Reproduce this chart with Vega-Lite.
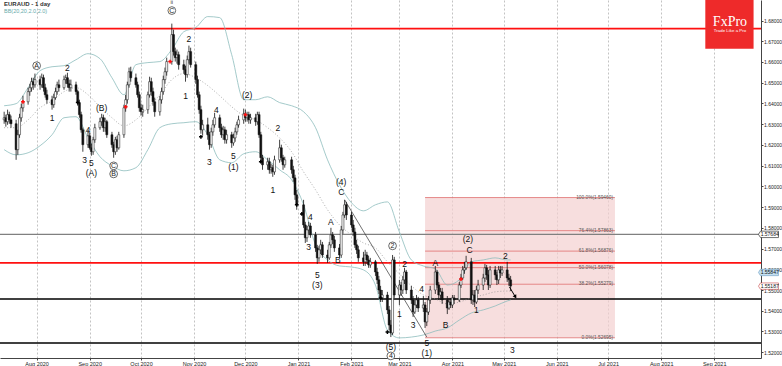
{
"$schema": "https://vega.github.io/schema/vega-lite/v6.json",
"width": 761, "height": 358,
"autosize": {"type": "none"},
"padding": {"left": 0, "top": 0, "right": 21, "bottom": 8},
"background": "white",
"config": {"view": {"stroke": null}, "font": "Liberation Sans",
  "axisX": {"tickCount": {"interval": "month", "step": 1}, "format": "%b %Y", "grid": true, "gridDash": [2, 2], "gridColor": "#9a9a9a", "gridWidth": 0.6, "labelFontSize": 5.5, "tickSize": 2, "labelPadding": 1, "domainColor": "#444", "tickColor": "#444", "labelColor": "#222", "labelOverlap": false, "labelFlush": false},
  "axisY": {"grid": false, "tickCount": 18, "labelFontSize": 5, "tickSize": 2, "labelPadding": 0.5, "domainColor": "#444", "tickColor": "#444", "labelColor": "#222", "format": ".5f", "labelOverlap": false, "labelFlush": false}
},
"title": {"text": "EURAUD - 1 day", "subtitle": "BB(20,20,2.0,2.0)", "anchor": "start", "frame": "group", "orient": "top", "fontSize": 6, "fontWeight": "bold", "color": "#333", "subtitleFontSize": 5.5, "subtitleColor": "#66aaaa", "subtitlePadding": 2, "offset": 0, "dx": 4, "dy": 16},
"datasets": {
"c": [
{"d":"2020-07-13","o":1.6321,"h":1.6360,"l":1.6302,"c":1.6331},
{"d":"2020-07-14","o":1.6331,"h":1.6346,"l":1.6288,"c":1.6312},
{"d":"2020-07-15","o":1.6312,"h":1.6370,"l":1.6297,"c":1.6346},
{"d":"2020-07-16","o":1.6346,"h":1.6360,"l":1.6302,"c":1.6321},
{"d":"2020-07-17","o":1.6321,"h":1.6341,"l":1.6283,"c":1.6302},
{"d":"2020-07-20","o":1.6302,"h":1.6321,"l":1.6128,"c":1.6177},
{"d":"2020-07-21","o":1.6177,"h":1.6273,"l":1.6152,"c":1.6249},
{"d":"2020-07-22","o":1.6249,"h":1.6350,"l":1.6234,"c":1.6331},
{"d":"2020-07-23","o":1.6331,"h":1.6399,"l":1.6312,"c":1.6379},
{"d":"2020-07-24","o":1.6379,"h":1.6437,"l":1.6360,"c":1.6408},
{"d":"2020-07-27","o":1.6408,"h":1.6476,"l":1.6394,"c":1.6457},
{"d":"2020-07-28","o":1.6457,"h":1.6495,"l":1.6437,"c":1.6476},
{"d":"2020-07-29","o":1.6476,"h":1.6524,"l":1.6457,"c":1.6505},
{"d":"2020-07-30","o":1.6505,"h":1.6524,"l":1.6466,"c":1.6490},
{"d":"2020-07-31","o":1.6490,"h":1.6544,"l":1.6476,"c":1.6515},
{"d":"2020-08-03","o":1.6515,"h":1.6534,"l":1.6466,"c":1.6490},
{"d":"2020-08-04","o":1.6490,"h":1.6544,"l":1.6476,"c":1.6524},
{"d":"2020-08-05","o":1.6524,"h":1.6539,"l":1.6457,"c":1.6476},
{"d":"2020-08-06","o":1.6476,"h":1.6495,"l":1.6428,"c":1.6442},
{"d":"2020-08-07","o":1.6442,"h":1.6466,"l":1.6399,"c":1.6418},
{"d":"2020-08-10","o":1.6418,"h":1.6437,"l":1.6370,"c":1.6394},
{"d":"2020-08-11","o":1.6394,"h":1.6447,"l":1.6379,"c":1.6428},
{"d":"2020-08-12","o":1.6428,"h":1.6476,"l":1.6418,"c":1.6457},
{"d":"2020-08-13","o":1.6457,"h":1.6505,"l":1.6442,"c":1.6490},
{"d":"2020-08-14","o":1.6490,"h":1.6515,"l":1.6457,"c":1.6476},
{"d":"2020-08-17","o":1.6476,"h":1.6534,"l":1.6466,"c":1.6515},
{"d":"2020-08-18","o":1.6515,"h":1.6539,"l":1.6495,"c":1.6524},
{"d":"2020-08-19","o":1.6524,"h":1.6548,"l":1.6476,"c":1.6495},
{"d":"2020-08-20","o":1.6495,"h":1.6515,"l":1.6457,"c":1.6476},
{"d":"2020-08-21","o":1.6476,"h":1.6515,"l":1.6457,"c":1.6490},
{"d":"2020-08-24","o":1.6490,"h":1.6505,"l":1.6442,"c":1.6457},
{"d":"2020-08-25","o":1.6457,"h":1.6466,"l":1.6389,"c":1.6404},
{"d":"2020-08-26","o":1.6404,"h":1.6418,"l":1.6331,"c":1.6346},
{"d":"2020-08-27","o":1.6346,"h":1.6360,"l":1.6259,"c":1.6273},
{"d":"2020-08-28","o":1.6273,"h":1.6283,"l":1.6167,"c":1.6201},
{"d":"2020-08-31","o":1.6201,"h":1.6273,"l":1.6186,"c":1.6244},
{"d":"2020-09-01","o":1.6244,"h":1.6259,"l":1.6177,"c":1.6186},
{"d":"2020-09-02","o":1.6186,"h":1.6206,"l":1.6148,"c":1.6167},
{"d":"2020-09-03","o":1.6167,"h":1.6239,"l":1.6152,"c":1.6225},
{"d":"2020-09-04","o":1.6225,"h":1.6302,"l":1.6210,"c":1.6283},
{"d":"2020-09-07","o":1.6283,"h":1.6331,"l":1.6273,"c":1.6312},
{"d":"2020-09-08","o":1.6312,"h":1.6350,"l":1.6292,"c":1.6331},
{"d":"2020-09-09","o":1.6331,"h":1.6346,"l":1.6263,"c":1.6283},
{"d":"2020-09-10","o":1.6283,"h":1.6331,"l":1.6263,"c":1.6312},
{"d":"2020-09-11","o":1.6312,"h":1.6321,"l":1.6234,"c":1.6249},
{"d":"2020-09-14","o":1.6249,"h":1.6263,"l":1.6186,"c":1.6201},
{"d":"2020-09-15","o":1.6201,"h":1.6215,"l":1.6138,"c":1.6167},
{"d":"2020-09-16","o":1.6167,"h":1.6239,"l":1.6152,"c":1.6225},
{"d":"2020-09-17","o":1.6225,"h":1.6244,"l":1.6167,"c":1.6186},
{"d":"2020-09-18","o":1.6186,"h":1.6263,"l":1.6177,"c":1.6249},
{"d":"2020-09-21","o":1.6249,"h":1.6394,"l":1.6234,"c":1.6379},
{"d":"2020-09-22","o":1.6379,"h":1.6442,"l":1.6360,"c":1.6418},
{"d":"2020-09-23","o":1.6418,"h":1.6505,"l":1.6399,"c":1.6490},
{"d":"2020-09-24","o":1.6490,"h":1.6573,"l":1.6476,"c":1.6553},
{"d":"2020-09-25","o":1.6553,"h":1.6577,"l":1.6505,"c":1.6524},
{"d":"2020-09-28","o":1.6524,"h":1.6544,"l":1.6476,"c":1.6490},
{"d":"2020-09-29","o":1.6490,"h":1.6505,"l":1.6428,"c":1.6442},
{"d":"2020-09-30","o":1.6442,"h":1.6457,"l":1.6360,"c":1.6379},
{"d":"2020-10-01","o":1.6379,"h":1.6399,"l":1.6341,"c":1.6360},
{"d":"2020-10-02","o":1.6360,"h":1.6394,"l":1.6336,"c":1.6370},
{"d":"2020-10-05","o":1.6370,"h":1.6457,"l":1.6350,"c":1.6442},
{"d":"2020-10-06","o":1.6442,"h":1.6529,"l":1.6428,"c":1.6505},
{"d":"2020-10-07","o":1.6505,"h":1.6524,"l":1.6437,"c":1.6457},
{"d":"2020-10-08","o":1.6457,"h":1.6476,"l":1.6389,"c":1.6408},
{"d":"2020-10-09","o":1.6408,"h":1.6428,"l":1.6336,"c":1.6360},
{"d":"2020-10-12","o":1.6360,"h":1.6437,"l":1.6341,"c":1.6418},
{"d":"2020-10-13","o":1.6418,"h":1.6476,"l":1.6399,"c":1.6457},
{"d":"2020-10-14","o":1.6457,"h":1.6534,"l":1.6442,"c":1.6515},
{"d":"2020-10-15","o":1.6515,"h":1.6573,"l":1.6495,"c":1.6553},
{"d":"2020-10-16","o":1.6553,"h":1.6621,"l":1.6534,"c":1.6602},
{"d":"2020-10-19","o":1.6602,"h":1.6785,"l":1.6587,"c":1.6732},
{"d":"2020-10-20","o":1.6732,"h":1.6756,"l":1.6631,"c":1.6650},
{"d":"2020-10-21","o":1.6650,"h":1.6669,"l":1.6602,"c":1.6621},
{"d":"2020-10-22","o":1.6621,"h":1.6660,"l":1.6592,"c":1.6635},
{"d":"2020-10-23","o":1.6635,"h":1.6650,"l":1.6563,"c":1.6587},
{"d":"2020-10-26","o":1.6587,"h":1.6611,"l":1.6544,"c":1.6563},
{"d":"2020-10-27","o":1.6563,"h":1.6582,"l":1.6505,"c":1.6539},
{"d":"2020-10-28","o":1.6539,"h":1.6631,"l":1.6524,"c":1.6611},
{"d":"2020-10-29","o":1.6611,"h":1.6679,"l":1.6592,"c":1.6650},
{"d":"2020-10-30","o":1.6650,"h":1.6669,"l":1.6573,"c":1.6587},
{"d":"2020-11-02","o":1.6587,"h":1.6602,"l":1.6495,"c":1.6515},
{"d":"2020-11-03","o":1.6515,"h":1.6534,"l":1.6428,"c":1.6442},
{"d":"2020-11-04","o":1.6442,"h":1.6457,"l":1.6350,"c":1.6370},
{"d":"2020-11-05","o":1.6370,"h":1.6389,"l":1.6254,"c":1.6273},
{"d":"2020-11-06","o":1.6273,"h":1.6321,"l":1.6244,"c":1.6297},
{"d":"2020-11-09","o":1.6297,"h":1.6331,"l":1.6225,"c":1.6249},
{"d":"2020-11-10","o":1.6249,"h":1.6263,"l":1.6177,"c":1.6201},
{"d":"2020-11-11","o":1.6201,"h":1.6283,"l":1.6186,"c":1.6263},
{"d":"2020-11-12","o":1.6263,"h":1.6321,"l":1.6244,"c":1.6297},
{"d":"2020-11-13","o":1.6297,"h":1.6355,"l":1.6283,"c":1.6331},
{"d":"2020-11-16","o":1.6331,"h":1.6346,"l":1.6263,"c":1.6283},
{"d":"2020-11-17","o":1.6283,"h":1.6302,"l":1.6234,"c":1.6249},
{"d":"2020-11-18","o":1.6249,"h":1.6292,"l":1.6225,"c":1.6273},
{"d":"2020-11-19","o":1.6273,"h":1.6288,"l":1.6206,"c":1.6225},
{"d":"2020-11-20","o":1.6225,"h":1.6273,"l":1.6206,"c":1.6249},
{"d":"2020-11-23","o":1.6249,"h":1.6263,"l":1.6186,"c":1.6210},
{"d":"2020-11-24","o":1.6210,"h":1.6254,"l":1.6196,"c":1.6234},
{"d":"2020-11-25","o":1.6234,"h":1.6283,"l":1.6215,"c":1.6263},
{"d":"2020-11-26","o":1.6263,"h":1.6312,"l":1.6249,"c":1.6297},
{"d":"2020-11-27","o":1.6297,"h":1.6341,"l":1.6283,"c":1.6321},
{"d":"2020-11-30","o":1.6321,"h":1.6375,"l":1.6302,"c":1.6350},
{"d":"2020-12-01","o":1.6350,"h":1.6370,"l":1.6312,"c":1.6331},
{"d":"2020-12-02","o":1.6331,"h":1.6360,"l":1.6312,"c":1.6346},
{"d":"2020-12-03","o":1.6346,"h":1.6360,"l":1.6302,"c":1.6321},
{"d":"2020-12-04","o":1.6321,"h":1.6350,"l":1.6302,"c":1.6331},
{"d":"2020-12-07","o":1.6331,"h":1.6350,"l":1.6292,"c":1.6312},
{"d":"2020-12-08","o":1.6312,"h":1.6360,"l":1.6297,"c":1.6346},
{"d":"2020-12-09","o":1.6346,"h":1.6360,"l":1.6234,"c":1.6249},
{"d":"2020-12-10","o":1.6249,"h":1.6263,"l":1.6119,"c":1.6138},
{"d":"2020-12-11","o":1.6138,"h":1.6152,"l":1.6080,"c":1.6104},
{"d":"2020-12-14","o":1.6104,"h":1.6138,"l":1.6080,"c":1.6119},
{"d":"2020-12-15","o":1.6119,"h":1.6138,"l":1.6061,"c":1.6080},
{"d":"2020-12-16","o":1.6080,"h":1.6109,"l":1.6061,"c":1.6090},
{"d":"2020-12-17","o":1.6090,"h":1.6104,"l":1.6046,"c":1.6070},
{"d":"2020-12-18","o":1.6070,"h":1.6148,"l":1.6056,"c":1.6128},
{"d":"2020-12-21","o":1.6128,"h":1.6225,"l":1.6114,"c":1.6186},
{"d":"2020-12-22","o":1.6186,"h":1.6201,"l":1.6119,"c":1.6138},
{"d":"2020-12-23","o":1.6138,"h":1.6152,"l":1.6080,"c":1.6104},
{"d":"2020-12-24","o":1.6104,"h":1.6143,"l":1.6090,"c":1.6128},
{"d":"2020-12-28","o":1.6128,"h":1.6143,"l":1.6061,"c":1.6080},
{"d":"2020-12-29","o":1.6080,"h":1.6099,"l":1.6022,"c":1.6041},
{"d":"2020-12-30","o":1.6041,"h":1.6056,"l":1.5935,"c":1.5959},
{"d":"2020-12-31","o":1.5959,"h":1.5983,"l":1.5887,"c":1.5911},
{"d":"2021-01-04","o":1.5911,"h":1.5935,"l":1.5800,"c":1.5814},
{"d":"2021-01-05","o":1.5814,"h":1.5829,"l":1.5727,"c":1.5752},
{"d":"2021-01-06","o":1.5752,"h":1.5809,"l":1.5732,"c":1.5790},
{"d":"2021-01-07","o":1.5790,"h":1.5829,"l":1.5771,"c":1.5809},
{"d":"2021-01-08","o":1.5809,"h":1.5824,"l":1.5752,"c":1.5766},
{"d":"2021-01-11","o":1.5766,"h":1.5780,"l":1.5684,"c":1.5703},
{"d":"2021-01-12","o":1.5703,"h":1.5718,"l":1.5626,"c":1.5655},
{"d":"2021-01-13","o":1.5655,"h":1.5713,"l":1.5636,"c":1.5694},
{"d":"2021-01-14","o":1.5694,"h":1.5742,"l":1.5674,"c":1.5718},
{"d":"2021-01-15","o":1.5718,"h":1.5732,"l":1.5655,"c":1.5669},
{"d":"2021-01-18","o":1.5669,"h":1.5694,"l":1.5631,"c":1.5655},
{"d":"2021-01-19","o":1.5655,"h":1.5732,"l":1.5645,"c":1.5718},
{"d":"2021-01-20","o":1.5718,"h":1.5800,"l":1.5703,"c":1.5766},
{"d":"2021-01-21","o":1.5766,"h":1.5780,"l":1.5722,"c":1.5742},
{"d":"2021-01-22","o":1.5742,"h":1.5761,"l":1.5684,"c":1.5703},
{"d":"2021-01-25","o":1.5703,"h":1.5722,"l":1.5655,"c":1.5669},
{"d":"2021-01-26","o":1.5669,"h":1.5809,"l":1.5655,"c":1.5790},
{"d":"2021-01-27","o":1.5790,"h":1.5877,"l":1.5771,"c":1.5862},
{"d":"2021-01-28","o":1.5862,"h":1.5935,"l":1.5848,"c":1.5911},
{"d":"2021-01-29","o":1.5911,"h":1.5925,"l":1.5838,"c":1.5862},
{"d":"2021-02-01","o":1.5862,"h":1.5877,"l":1.5800,"c":1.5814},
{"d":"2021-02-02","o":1.5814,"h":1.5838,"l":1.5761,"c":1.5780},
{"d":"2021-02-03","o":1.5780,"h":1.5800,"l":1.5703,"c":1.5718},
{"d":"2021-02-04","o":1.5718,"h":1.5742,"l":1.5674,"c":1.5694},
{"d":"2021-02-05","o":1.5694,"h":1.5713,"l":1.5636,"c":1.5655},
{"d":"2021-02-08","o":1.5655,"h":1.5684,"l":1.5616,"c":1.5636},
{"d":"2021-02-09","o":1.5636,"h":1.5694,"l":1.5616,"c":1.5669},
{"d":"2021-02-10","o":1.5669,"h":1.5684,"l":1.5626,"c":1.5645},
{"d":"2021-02-11","o":1.5645,"h":1.5665,"l":1.5607,"c":1.5621},
{"d":"2021-02-12","o":1.5621,"h":1.5655,"l":1.5607,"c":1.5636},
{"d":"2021-02-15","o":1.5636,"h":1.5645,"l":1.5568,"c":1.5587},
{"d":"2021-02-16","o":1.5587,"h":1.5607,"l":1.5529,"c":1.5549},
{"d":"2021-02-17","o":1.5549,"h":1.5568,"l":1.5481,"c":1.5500},
{"d":"2021-02-18","o":1.5500,"h":1.5520,"l":1.5442,"c":1.5462},
{"d":"2021-02-19","o":1.5462,"h":1.5500,"l":1.5442,"c":1.5476},
{"d":"2021-02-22","o":1.5476,"h":1.5491,"l":1.5384,"c":1.5404},
{"d":"2021-02-23","o":1.5404,"h":1.5423,"l":1.5307,"c":1.5331},
{"d":"2021-02-24","o":1.5331,"h":1.5355,"l":1.5273,"c":1.5293},
{"d":"2021-02-25","o":1.5293,"h":1.5669,"l":1.5283,"c":1.5645},
{"d":"2021-02-26","o":1.5645,"h":1.5660,"l":1.5462,"c":1.5476},
{"d":"2021-03-01","o":1.5476,"h":1.5549,"l":1.5428,"c":1.5524},
{"d":"2021-03-02","o":1.5524,"h":1.5539,"l":1.5471,"c":1.5500},
{"d":"2021-03-03","o":1.5500,"h":1.5568,"l":1.5481,"c":1.5549},
{"d":"2021-03-04","o":1.5549,"h":1.5607,"l":1.5529,"c":1.5587},
{"d":"2021-03-05","o":1.5587,"h":1.5597,"l":1.5481,"c":1.5500},
{"d":"2021-03-08","o":1.5500,"h":1.5520,"l":1.5433,"c":1.5452},
{"d":"2021-03-09","o":1.5452,"h":1.5471,"l":1.5370,"c":1.5394},
{"d":"2021-03-10","o":1.5394,"h":1.5452,"l":1.5384,"c":1.5428},
{"d":"2021-03-11","o":1.5428,"h":1.5476,"l":1.5413,"c":1.5452},
{"d":"2021-03-12","o":1.5452,"h":1.5467,"l":1.5394,"c":1.5413},
{"d":"2021-03-15","o":1.5413,"h":1.5471,"l":1.5394,"c":1.5428},
{"d":"2021-03-16","o":1.5428,"h":1.5442,"l":1.5317,"c":1.5346},
{"d":"2021-03-17","o":1.5346,"h":1.5413,"l":1.5326,"c":1.5394},
{"d":"2021-03-18","o":1.5394,"h":1.5471,"l":1.5380,"c":1.5452},
{"d":"2021-03-19","o":1.5452,"h":1.5520,"l":1.5433,"c":1.5500},
{"d":"2021-03-22","o":1.5500,"h":1.5616,"l":1.5481,"c":1.5587},
{"d":"2021-03-23","o":1.5587,"h":1.5597,"l":1.5510,"c":1.5524},
{"d":"2021-03-24","o":1.5524,"h":1.5539,"l":1.5452,"c":1.5476},
{"d":"2021-03-25","o":1.5476,"h":1.5510,"l":1.5452,"c":1.5491},
{"d":"2021-03-26","o":1.5491,"h":1.5510,"l":1.5433,"c":1.5452},
{"d":"2021-03-29","o":1.5452,"h":1.5471,"l":1.5384,"c":1.5413},
{"d":"2021-03-30","o":1.5413,"h":1.5462,"l":1.5404,"c":1.5442},
{"d":"2021-03-31","o":1.5442,"h":1.5462,"l":1.5413,"c":1.5428},
{"d":"2021-04-01","o":1.5428,"h":1.5476,"l":1.5413,"c":1.5462},
{"d":"2021-04-02","o":1.5462,"h":1.5476,"l":1.5433,"c":1.5452},
{"d":"2021-04-05","o":1.5452,"h":1.5539,"l":1.5442,"c":1.5524},
{"d":"2021-04-06","o":1.5524,"h":1.5578,"l":1.5510,"c":1.5558},
{"d":"2021-04-07","o":1.5558,"h":1.5616,"l":1.5549,"c":1.5597},
{"d":"2021-04-08","o":1.5597,"h":1.5636,"l":1.5578,"c":1.5607},
{"d":"2021-04-09","o":1.5607,"h":1.5665,"l":1.5597,"c":1.5636},
{"d":"2021-04-12","o":1.5636,"h":1.5655,"l":1.5433,"c":1.5452},
{"d":"2021-04-13","o":1.5452,"h":1.5500,"l":1.5428,"c":1.5476},
{"d":"2021-04-14","o":1.5476,"h":1.5500,"l":1.5418,"c":1.5442},
{"d":"2021-04-15","o":1.5442,"h":1.5520,"l":1.5433,"c":1.5500},
{"d":"2021-04-16","o":1.5500,"h":1.5549,"l":1.5481,"c":1.5524},
{"d":"2021-04-19","o":1.5524,"h":1.5578,"l":1.5500,"c":1.5558},
{"d":"2021-04-20","o":1.5558,"h":1.5626,"l":1.5539,"c":1.5607},
{"d":"2021-04-21","o":1.5607,"h":1.5621,"l":1.5549,"c":1.5573},
{"d":"2021-04-22","o":1.5573,"h":1.5597,"l":1.5500,"c":1.5524},
{"d":"2021-04-23","o":1.5524,"h":1.5616,"l":1.5510,"c":1.5597},
{"d":"2021-04-26","o":1.5597,"h":1.5616,"l":1.5549,"c":1.5573},
{"d":"2021-04-27","o":1.5573,"h":1.5587,"l":1.5524,"c":1.5549},
{"d":"2021-04-28","o":1.5549,"h":1.5616,"l":1.5529,"c":1.5597},
{"d":"2021-04-29","o":1.5597,"h":1.5616,"l":1.5558,"c":1.5582},
{"d":"2021-04-30","o":1.5582,"h":1.5616,"l":1.5568,"c":1.5597},
{"d":"2021-05-03","o":1.5597,"h":1.5636,"l":1.5539,"c":1.5558},
{"d":"2021-05-04","o":1.5558,"h":1.5578,"l":1.5520,"c":1.5549},
{"d":"2021-05-05","o":1.5549,"h":1.5568,"l":1.5495,"c":1.5519}
],
"bb": [
{"d":"2020-07-13","u":1.6389,"m":1.6283,"lo":1.6177},
{"d":"2020-07-20","u":1.6399,"m":1.6283,"lo":1.6152},
{"d":"2020-07-27","u":1.6476,"m":1.6321,"lo":1.6162},
{"d":"2020-08-03","u":1.6558,"m":1.6379,"lo":1.6196},
{"d":"2020-08-10","u":1.6577,"m":1.6413,"lo":1.6249},
{"d":"2020-08-17","u":1.6582,"m":1.6457,"lo":1.6331},
{"d":"2020-08-24","u":1.6611,"m":1.6476,"lo":1.6336},
{"d":"2020-08-31","u":1.6640,"m":1.6442,"lo":1.6234},
{"d":"2020-09-07","u":1.6616,"m":1.6384,"lo":1.6143},
{"d":"2020-09-14","u":1.6524,"m":1.6331,"lo":1.6099},
{"d":"2020-09-21","u":1.6442,"m":1.6292,"lo":1.6075},
{"d":"2020-09-28","u":1.6587,"m":1.6321,"lo":1.6090},
{"d":"2020-10-05","u":1.6597,"m":1.6379,"lo":1.6177},
{"d":"2020-10-12","u":1.6602,"m":1.6442,"lo":1.6283},
{"d":"2020-10-19","u":1.6660,"m":1.6515,"lo":1.6302},
{"d":"2020-10-26","u":1.6746,"m":1.6544,"lo":1.6307},
{"d":"2020-11-02","u":1.6766,"m":1.6524,"lo":1.6312},
{"d":"2020-11-09","u":1.6819,"m":1.6486,"lo":1.6249},
{"d":"2020-11-16","u":1.6814,"m":1.6437,"lo":1.6128},
{"d":"2020-11-23","u":1.6635,"m":1.6384,"lo":1.6114},
{"d":"2020-11-30","u":1.6418,"m":1.6341,"lo":1.6157},
{"d":"2020-12-07","u":1.6418,"m":1.6321,"lo":1.6167},
{"d":"2020-12-14","u":1.6432,"m":1.6283,"lo":1.6128},
{"d":"2020-12-21","u":1.6404,"m":1.6234,"lo":1.6080},
{"d":"2020-12-28","u":1.6389,"m":1.6167,"lo":1.6032},
{"d":"2021-01-04","u":1.6360,"m":1.6070,"lo":1.5911},
{"d":"2021-01-11","u":1.6283,"m":1.5983,"lo":1.5718},
{"d":"2021-01-18","u":1.6128,"m":1.5887,"lo":1.5645},
{"d":"2021-01-25","u":1.6007,"m":1.5814,"lo":1.5616},
{"d":"2021-02-01","u":1.5921,"m":1.5766,"lo":1.5611},
{"d":"2021-02-08","u":1.5882,"m":1.5727,"lo":1.5597},
{"d":"2021-02-15","u":1.5911,"m":1.5703,"lo":1.5524},
{"d":"2021-02-22","u":1.5925,"m":1.5636,"lo":1.5307},
{"d":"2021-03-01","u":1.5780,"m":1.5578,"lo":1.5269},
{"d":"2021-03-08","u":1.5645,"m":1.5520,"lo":1.5273},
{"d":"2021-03-15","u":1.5616,"m":1.5476,"lo":1.5283},
{"d":"2021-03-22","u":1.5602,"m":1.5457,"lo":1.5302},
{"d":"2021-03-29","u":1.5524,"m":1.5433,"lo":1.5317},
{"d":"2021-04-05","u":1.5549,"m":1.5442,"lo":1.5355},
{"d":"2021-04-12","u":1.5636,"m":1.5462,"lo":1.5389},
{"d":"2021-04-19","u":1.5645,"m":1.5476,"lo":1.5404},
{"d":"2021-04-26","u":1.5655,"m":1.5491,"lo":1.5423},
{"d":"2021-05-03","u":1.5645,"m":1.5495,"lo":1.5447},
{"d":"2021-05-05","u":1.5645,"m":1.5495,"lo":1.5452}
],
"lab": [
{"d":"2020-08-19","p":1.6573,"t":"2"},
{"d":"2020-08-10","p":1.6331,"t":"1"},
{"d":"2020-09-08","p":1.6379,"t":"(B)"},
{"d":"2020-08-31","p":1.6273,"t":"4"},
{"d":"2020-08-29","p":1.6128,"t":"3"},
{"d":"2020-09-02","p":1.6114,"t":"5"},
{"d":"2020-09-02","p":1.6065,"t":"(A)"},
{"d":"2020-10-29","p":1.6713,"t":"2"},
{"d":"2020-10-27","p":1.6437,"t":"1"},
{"d":"2020-11-14","p":1.6370,"t":"4"},
{"d":"2020-11-10","p":1.6119,"t":"3"},
{"d":"2020-11-24","p":1.6148,"t":"5"},
{"d":"2020-11-24","p":1.6094,"t":"(1)"},
{"d":"2020-12-02","p":1.6442,"t":"(2)"},
{"d":"2020-12-20","p":1.6283,"t":"2"},
{"d":"2020-12-17","p":1.5983,"t":"1"},
{"d":"2021-01-08","p":1.5853,"t":"4"},
{"d":"2021-01-07","p":1.5708,"t":"3"},
{"d":"2021-01-12","p":1.5573,"t":"5"},
{"d":"2021-01-12","p":1.5525,"t":"(3)"},
{"d":"2021-01-20","p":1.5829,"t":"A"},
{"d":"2021-01-24","p":1.5645,"t":"B"},
{"d":"2021-01-26","p":1.5974,"t":"C"},
{"d":"2021-01-26","p":1.6022,"t":"(4)"},
{"d":"2021-02-24","p":1.5225,"t":"(5)"},
{"d":"2021-03-01","p":1.5384,"t":"1"},
{"d":"2021-03-04","p":1.5626,"t":"2"},
{"d":"2021-03-09","p":1.5331,"t":"3"},
{"d":"2021-03-14","p":1.5505,"t":"4"},
{"d":"2021-03-17","p":1.5244,"t":"5"},
{"d":"2021-03-17","p":1.5196,"t":"(1)"},
{"d":"2021-03-22","p":1.5631,"t":"A"},
{"d":"2021-03-28","p":1.5331,"t":"B"},
{"d":"2021-04-11","p":1.5694,"t":"C"},
{"d":"2021-04-10","p":1.5746,"t":"(2)"},
{"d":"2021-04-15","p":1.5404,"t":"1"},
{"d":"2021-05-02","p":1.5665,"t":"2"},
{"d":"2021-05-06","p":1.5211,"t":"3"}
],
"circ": [
{"d":"2020-08-01","p":1.6582,"t":"A"},
{"d":"2020-09-15","p":1.6099,"t":"C"},
{"d":"2020-09-15","p":1.6060,"t":"B"},
{"d":"2020-10-19","p":1.6848,"t":"C"},
{"d":"2021-02-25","p":1.5713,"t":"2"},
{"d":"2021-02-24","p":1.5182,"t":"4"}
],
"mk": [
{"d":"2020-07-24","p":1.6408,"k":"up"},
{"d":"2020-09-22","p":1.6384,"k":"up"},
{"d":"2020-10-18","p":1.6602,"k":"up"},
{"d":"2020-12-01","p":1.6346,"k":"up"},
{"d":"2021-04-06","p":1.5553,"k":"up"},
{"d":"2020-08-25","p":1.6404,"k":"dn"},
{"d":"2020-11-05","p":1.6239,"k":"dn"},
{"d":"2020-12-10","p":1.6119,"k":"dn"},
{"d":"2020-12-31","p":1.5911,"k":"dn"},
{"d":"2021-01-03","p":1.5867,"k":"dn"},
{"d":"2021-02-18","p":1.5462,"k":"dn"},
{"d":"2021-02-22","p":1.5297,"k":"dn"}
],
"hl": [
{"p":1.6761,"k":"red"},
{"p":1.5631,"k":"red"},
{"p":1.5457,"k":"black"},
{"p":1.5244,"k":"black"},
{"p":1.57684,"k":"grey"}
],
"fib": [
{"d":"2021-03-16","d2":"2021-07-05","p":1.5946,"t":"100.0%(1.59460)"},
{"d":"2021-03-16","d2":"2021-07-05","p":1.57863,"t":"76.4%(1.57863)"},
{"d":"2021-03-16","d2":"2021-07-05","p":1.56876,"t":"61.8%(1.56876)"},
{"d":"2021-03-16","d2":"2021-07-05","p":1.56078,"t":"50.0%(1.56078)"},
{"d":"2021-03-16","d2":"2021-07-05","p":1.55279,"t":"38.2%(1.55279)"},
{"d":"2021-03-16","d2":"2021-07-05","p":1.52695,"t":"0.0%(1.52695)"}
],
"tags": [
{"p":1.57684,"t":"1.57684","k":"ask"},
{"p":1.55847,"t":"1.55847","k":"bid"},
{"p":1.55187,"t":"1.55187","k":"cur"}
]
},
"layer": [
{"data": {"name": "fib"}, "transform": [{"filter": "datum.t == '100.0%(1.59460)'"}],
 "mark": {"type": "rect", "fill": "#f4d0d0", "opacity": 0.7},
 "encoding": {
  "x": {"field": "d", "type": "temporal", "title": null, "scale": {"nice": false, "domain": [{"year": 2020, "month": 7, "date": 13, "hours": 12}, {"year": 2021, "month": 9, "date": 25, "hours": 10}]}, "axis": {"title": null}},
  "x2": {"field": "d2"},
  "y": {"field": "p", "type": "quantitative", "title": null, "scale": {"domain": [1.5172, 1.6899], "nice": false, "zero": false}, "axis": {"orient": "right", "title": null, "tickCount": 18}},
  "y2": {"datum": 1.52695}
 }},
{"data": {"name": "fib"},
 "mark": {"type": "rule", "color": "#e07070", "strokeWidth": 0.8},
 "encoding": {"x": {"field": "d", "type": "temporal", "title": null}, "x2": {"field": "d2"}, "y": {"field": "p", "type": "quantitative", "title": null}}},
{"data": {"name": "hl"},
 "mark": {"type": "rule"},
 "encoding": {"y": {"field": "p", "type": "quantitative", "title": null},
  "color": {"field": "k", "type": "nominal", "legend": null, "scale": {"domain": ["red", "black", "grey"], "range": ["#ff1010", "#000000", "#808080"]}},
  "strokeWidth": {"field": "k", "type": "nominal", "legend": null, "scale": {"domain": ["red", "black", "grey"], "range": [1.6, 1.4, 0.8]}}}},
{"data": {"name": "bb"},
 "mark": {"type": "line", "color": "#8dbdbd", "strokeWidth": 0.8, "interpolate": "monotone"},
 "encoding": {"x": {"field": "d", "type": "temporal", "title": null}, "y": {"field": "u", "type": "quantitative", "title": null}}},
{"data": {"name": "bb"},
 "mark": {"type": "line", "color": "#8dbdbd", "strokeWidth": 0.8, "interpolate": "monotone"},
 "encoding": {"x": {"field": "d", "type": "temporal", "title": null}, "y": {"field": "lo", "type": "quantitative", "title": null}}},
{"data": {"name": "bb"},
 "mark": {"type": "line", "color": "#8a8a8a", "strokeWidth": 0.7, "strokeDash": [1, 2], "interpolate": "monotone"},
 "encoding": {"x": {"field": "d", "type": "temporal", "title": null}, "y": {"field": "m", "type": "quantitative", "title": null}}},
{"data": {"values": [{"d": "2021-01-28", "p": 1.5935, "d2": "2021-03-17", "p2": 1.5273}]},
 "mark": {"type": "rule", "color": "#333", "strokeWidth": 0.7},
 "encoding": {"x": {"field": "d", "type": "temporal", "title": null}, "y": {"field": "p", "type": "quantitative", "title": null}, "x2": {"field": "d2"}, "y2": {"field": "p2"}}},
{"data": {"name": "c"},
 "mark": {"type": "rule", "color": "#111", "strokeWidth": 0.8},
 "encoding": {"x": {"field": "d", "type": "temporal", "title": null}, "y": {"field": "l", "type": "quantitative", "title": null}, "y2": {"field": "h"}}},
{"data": {"name": "c"},
 "mark": {"type": "bar", "width": 2, "stroke": "#111", "strokeWidth": 0.5},
 "encoding": {"x": {"field": "d", "type": "temporal", "title": null}, "y": {"field": "o", "type": "quantitative", "title": null}, "y2": {"field": "c"},
  "fill": {"condition": {"test": "datum.c >= datum.o", "value": "#ffffff"}, "value": "#111111"}}},
{"data": {"name": "mk"},
 "mark": {"type": "point", "shape": "cross", "filled": true, "size": 14, "opacity": 1},
 "encoding": {"x": {"field": "d", "type": "temporal", "title": null}, "y": {"field": "p", "type": "quantitative", "title": null},
  "color": {"field": "k", "type": "nominal", "legend": null, "scale": {"domain": ["up", "dn"], "range": ["#2e9e2e", "#cc2020"]}}}},
{"data": {"name": "circ"},
 "mark": {"type": "point", "shape": "circle", "size": 60, "filled": true, "fill": "white", "stroke": "#444", "strokeWidth": 0.8, "opacity": 1},
 "encoding": {"x": {"field": "d", "type": "temporal", "title": null}, "y": {"field": "p", "type": "quantitative", "title": null}}},
{"data": {"name": "circ"},
 "mark": {"type": "text", "fontSize": 7, "color": "#222", "baseline": "middle", "align": "center"},
 "encoding": {"x": {"field": "d", "type": "temporal", "title": null}, "y": {"field": "p", "type": "quantitative", "title": null}, "text": {"field": "t"}}},
{"data": {"name": "lab"},
 "mark": {"type": "text", "fontSize": 8.5, "color": "#111", "baseline": "middle", "align": "center"},
 "encoding": {"x": {"field": "d", "type": "temporal", "title": null}, "y": {"field": "p", "type": "quantitative", "title": null}, "text": {"field": "t"}}},
{"data": {"values": [{"d": "2021-05-04T07:00:00", "p": 1.5515, "d2": "2021-05-07T19:00:00", "p2": 1.5467}]},
 "mark": {"type": "rule", "color": "#000", "strokeWidth": 1},
 "encoding": {"x": {"field": "d", "type": "temporal", "title": null}, "y": {"field": "p", "type": "quantitative", "title": null}, "x2": {"field": "d2"}, "y2": {"field": "p2"}}},
{"data": {"values": [{"d": "2021-05-07T19:00:00", "p": 1.5467}]},
 "mark": {"type": "point", "shape": "triangle-up", "angle": 149, "filled": true, "color": "#000", "size": 18, "opacity": 1},
 "encoding": {"x": {"field": "d", "type": "temporal", "title": null}, "y": {"field": "p", "type": "quantitative", "title": null}}},
{"data": {"name": "fib"},
 "mark": {"type": "text", "fontSize": 4.8, "color": "#555", "align": "right", "baseline": "middle", "dx": -2},
 "encoding": {"x": {"field": "d2", "type": "temporal", "title": null}, "y": {"field": "p", "type": "quantitative", "title": null}, "text": {"field": "t"}}},
{"data": {"name": "tags"},
 "mark": {"type": "point", "shape": "M -1 0 L -0.8 -0.32 L 1 -0.32 L 1 0.32 L -0.8 0.32 Z", "size": 400, "filled": true, "strokeWidth": 0.7, "opacity": 1},
 "encoding": {"x": {"datum": {"year": 2021, "month": 10, "date": 2, "hours": 17}, "type": "temporal"},
  "y": {"field": "p", "type": "quantitative", "title": null},
  "fill": {"field": "k", "type": "nominal", "legend": null, "scale": {"domain": ["ask", "bid", "cur"], "range": ["#ffffff", "#c4dff0", "#ffffff"]}},
  "stroke": {"field": "k", "type": "nominal", "legend": null, "scale": {"domain": ["ask", "bid", "cur"], "range": ["#333333", "#7aa8c8", "#d06060"]}}}},
{"data": {"name": "tags"},
 "mark": {"type": "text", "fontSize": 5, "color": "#111", "align": "left", "baseline": "middle"},
 "encoding": {"x": {"datum": {"year": 2021, "month": 9, "date": 28, "hours": 3}, "type": "temporal"}, "y": {"field": "p", "type": "quantitative", "title": null}, "text": {"field": "t"}}},
{"data": {"values": [{"d": "2021-08-26T19:00:00", "d2": "2021-09-24T00:00:00", "p": 1.6905, "p2": 1.6664}]},
 "mark": {"type": "rect", "fill": "#ee2a2a"},
 "encoding": {"x": {"field": "d", "type": "temporal", "title": null}, "x2": {"field": "d2"}, "y": {"field": "p", "type": "quantitative", "title": null}, "y2": {"field": "p2"}}},
{"data": {"values": [{"d": "2021-09-10T05:00:00", "p": 1.6795, "t": "FxPro"}]},
 "mark": {"type": "text", "font": "Liberation Serif", "fontSize": 14, "color": "white", "align": "center", "baseline": "middle"},
 "encoding": {"x": {"field": "d", "type": "temporal", "title": null}, "y": {"field": "p", "type": "quantitative", "title": null}, "text": {"field": "t"}}},
{"data": {"values": [{"d": "2021-09-10T05:00:00", "p": 1.6749, "t": "Trade Like a Pro"}]},
 "mark": {"type": "text", "fontSize": 4.4, "color": "white", "align": "center", "baseline": "middle"},
 "encoding": {"x": {"field": "d", "type": "temporal", "title": null}, "y": {"field": "p", "type": "quantitative", "title": null}, "text": {"field": "t"}}},
{"data": {"values": [{"d": "2020-10-19", "p": 1.6889, "t": "ii"}]},
 "mark": {"type": "text", "fontSize": 5.5, "color": "#222", "align": "center", "baseline": "middle"},
 "encoding": {"x": {"field": "d", "type": "temporal", "title": null}, "y": {"field": "p", "type": "quantitative", "title": null}, "text": {"field": "t"}}}
]
}
